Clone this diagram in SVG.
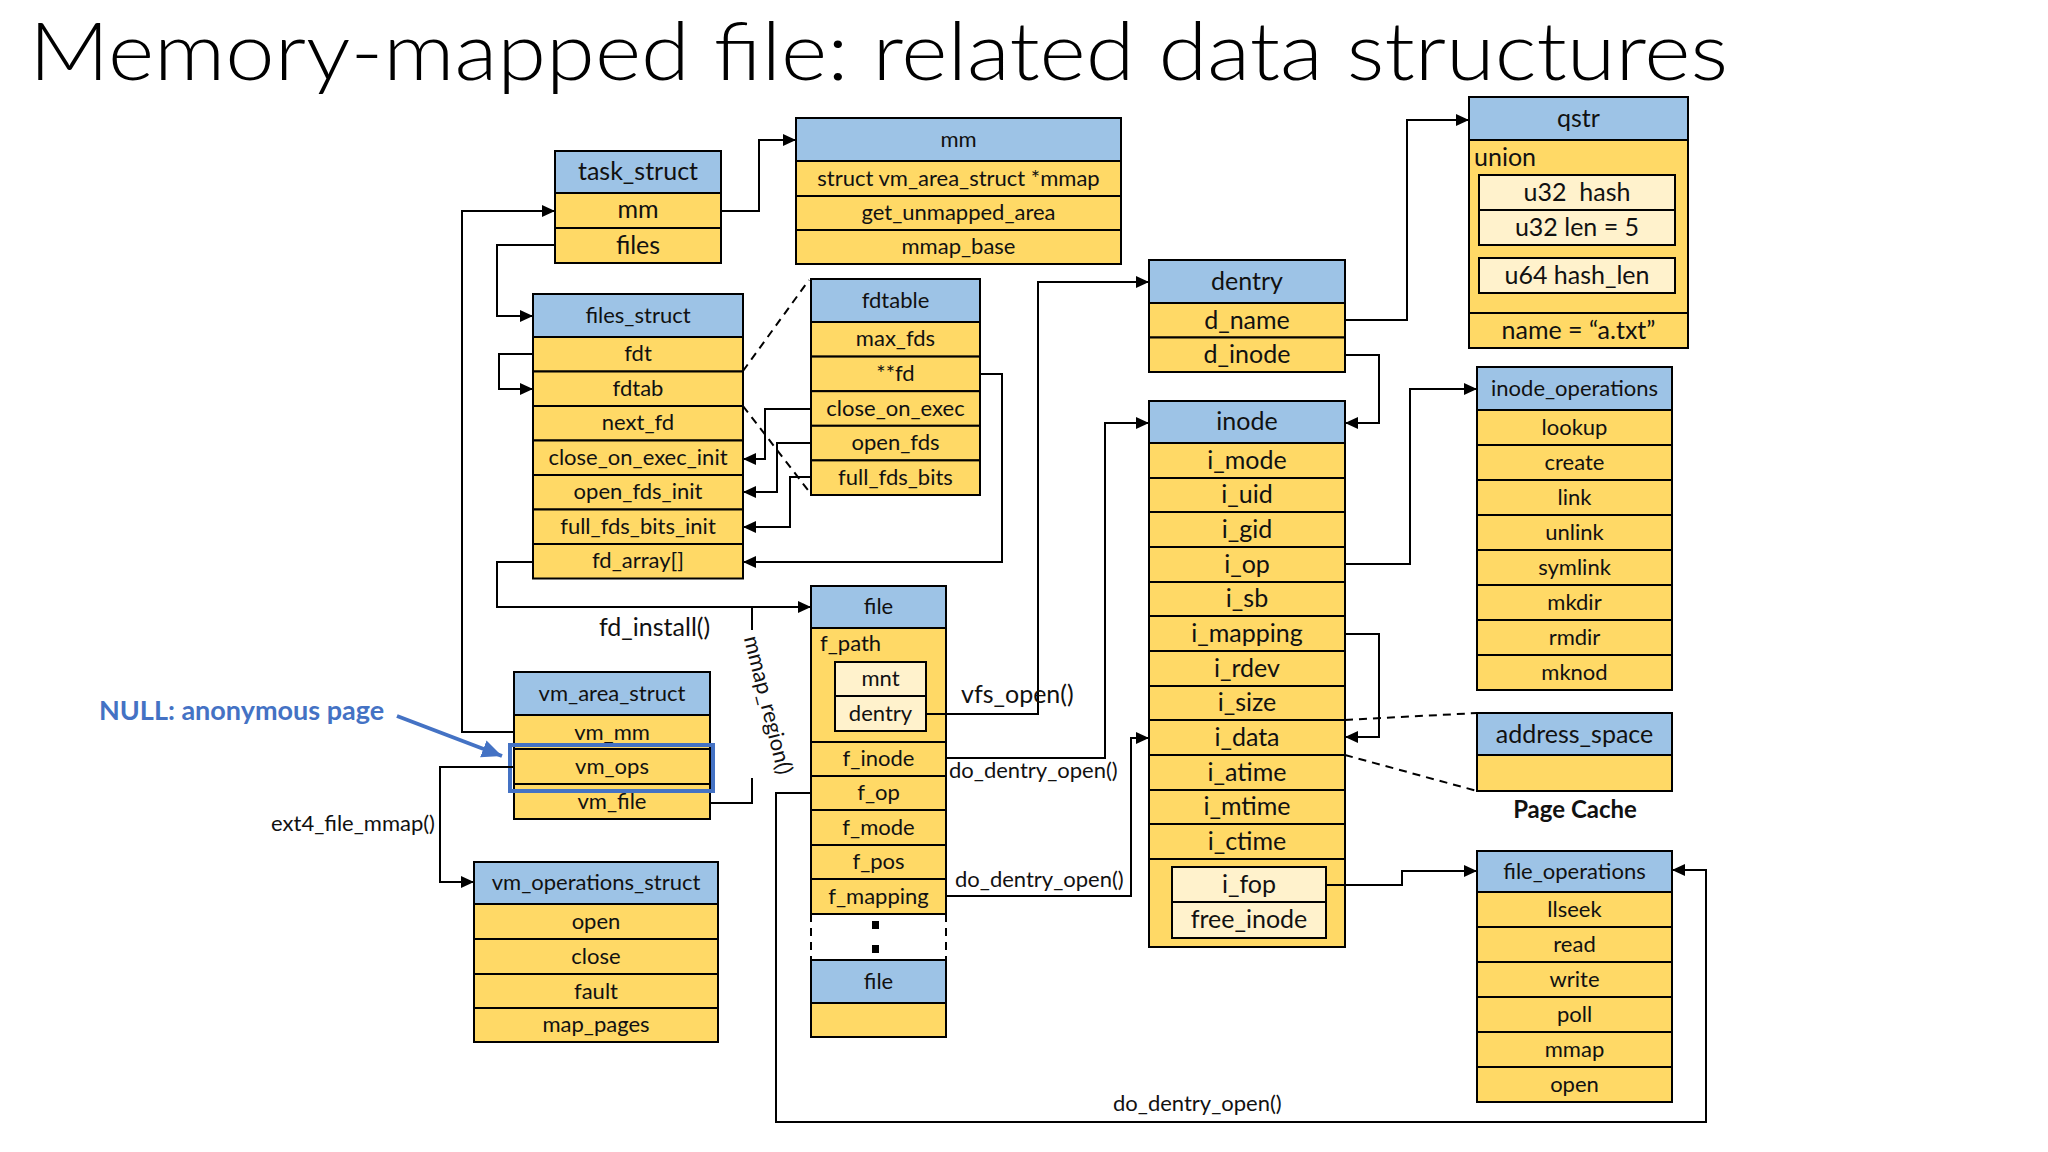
<svg xmlns="http://www.w3.org/2000/svg" width="2048" height="1152" viewBox="0 0 2048 1152">
<defs>
<style>
.hd{fill:#9DC3E6;stroke:#000;stroke-width:2}
.fd{fill:#FFD966;stroke:#000;stroke-width:2}
.lt{fill:#FFF2CC;stroke:#000;stroke-width:2}
text{font-family:Lato,"Liberation Sans",sans-serif;fill:#111}
.s{font-size:22px;text-anchor:middle}
.b{font-size:25px;text-anchor:middle}
.lbl{font-size:22px}
.ln{fill:none;stroke:#000;stroke-width:2}
.ar{marker-end:url(#ah)}
.ds{fill:none;stroke:#000;stroke-width:2;stroke-dasharray:8 6}
</style>
<marker id="ah" markerUnits="userSpaceOnUse" markerWidth="14" markerHeight="14" refX="13" refY="7" orient="auto">
<path d="M0,1 L13,7 L0,13 z" fill="#000"/>
</marker>
<marker id="bah" markerUnits="userSpaceOnUse" markerWidth="22" markerHeight="22" refX="20" refY="11" orient="auto">
<path d="M0,2 L20,11 L0,20 z" fill="#4472C4"/>
</marker>
</defs>
<rect x="0" y="0" width="2048" height="1152" fill="#fff"/>
<text x="29" y="80" font-size="81" font-weight="300" textLength="1699" lengthAdjust="spacingAndGlyphs" style="fill:#000">Memory-mapped file: related data structures</text>

<g id="task_struct">
<rect class="hd" x="555" y="151" width="166" height="42"/>
<rect class="fd" x="555" y="193" width="166" height="35"/>
<rect class="fd" x="555" y="228" width="166" height="35"/>
<text class="b" x="638" y="180">task_struct</text>
<text class="b" x="638" y="218">mm</text>
<text class="b" x="638" y="254">files</text>
</g>

<g id="mm">
<rect class="hd" x="796" y="118" width="325" height="43"/>
<rect class="fd" x="796" y="161" width="325" height="35"/>
<rect class="fd" x="796" y="196" width="325" height="34"/>
<rect class="fd" x="796" y="230" width="325" height="34"/>
<text class="s" x="958.5" y="147">mm</text>
<text class="s" x="958.5" y="186">struct vm_area_struct *mmap</text>
<text class="s" x="958.5" y="220">get_unmapped_area</text>
<text class="s" x="958.5" y="254">mmap_base</text>
</g>

<g id="files_struct">
<rect class="hd" x="533" y="294" width="210" height="43"/>
<rect class="fd" x="533" y="337" width="210" height="34.5"/>
<rect class="fd" x="533" y="371.5" width="210" height="34.5"/>
<rect class="fd" x="533" y="406" width="210" height="34.5"/>
<rect class="fd" x="533" y="440.5" width="210" height="34.5"/>
<rect class="fd" x="533" y="475" width="210" height="34.5"/>
<rect class="fd" x="533" y="509.5" width="210" height="34.5"/>
<rect class="fd" x="533" y="544" width="210" height="34.5"/>
<text class="s" x="638" y="323">files_struct</text>
<text class="s" x="638" y="361">fdt</text>
<text class="s" x="638" y="396">fdtab</text>
<text class="s" x="638" y="430">next_fd</text>
<text class="s" x="638" y="465">close_on_exec_init</text>
<text class="s" x="638" y="499">open_fds_init</text>
<text class="s" x="638" y="534">full_fds_bits_init</text>
<text class="s" x="638" y="568">fd_array[]</text>
</g>

<g id="fdtable">
<rect class="hd" x="811" y="279" width="169" height="43"/>
<rect class="fd" x="811" y="322" width="169" height="34.6"/>
<rect class="fd" x="811" y="356.6" width="169" height="34.6"/>
<rect class="fd" x="811" y="391.2" width="169" height="34.6"/>
<rect class="fd" x="811" y="425.8" width="169" height="34.6"/>
<rect class="fd" x="811" y="460.4" width="169" height="34.6"/>
<text class="s" x="895.5" y="308">fdtable</text>
<text class="s" x="895.5" y="346">max_fds</text>
<text class="s" x="895.5" y="381">**fd</text>
<text class="s" x="895.5" y="416">close_on_exec</text>
<text class="s" x="895.5" y="450">open_fds</text>
<text class="s" x="895.5" y="485">full_fds_bits</text>
</g>

<g id="dentry">
<rect class="hd" x="1149" y="260" width="196" height="43"/>
<rect class="fd" x="1149" y="303" width="196" height="34.5"/>
<rect class="fd" x="1149" y="337.5" width="196" height="34.5"/>
<text class="b" x="1247" y="290">dentry</text>
<text class="b" x="1247" y="329">d_name</text>
<text class="b" x="1247" y="363">d_inode</text>
</g>

<g id="qstr">
<rect class="hd" x="1469" y="97" width="219" height="43"/>
<rect class="fd" x="1469" y="140" width="219" height="173"/>
<rect class="fd" x="1469" y="313" width="219" height="35"/>
<text class="b" x="1578.5" y="127">qstr</text>
<text x="1474" y="166" font-size="25">union</text>
<rect class="lt" x="1479" y="175" width="196" height="35"/>
<rect class="lt" x="1479" y="210" width="196" height="35"/>
<rect class="lt" x="1479" y="258" width="196" height="35"/>
<text class="b" x="1577" y="201" style="white-space:pre">u32  hash</text>
<text class="b" x="1577" y="236">u32 len = 5</text>
<text class="b" x="1577" y="284">u64 hash_len</text>
<text class="b" x="1578.5" y="339">name = “a.txt”</text>
</g>

<g id="inode">
<rect class="hd" x="1149" y="401" width="196" height="42"/>
<rect class="fd" x="1149" y="443" width="196" height="35"/>
<rect class="fd" x="1149" y="478" width="196" height="34"/>
<rect class="fd" x="1149" y="512" width="196" height="35"/>
<rect class="fd" x="1149" y="547" width="196" height="35"/>
<rect class="fd" x="1149" y="582" width="196" height="34"/>
<rect class="fd" x="1149" y="616" width="196" height="35"/>
<rect class="fd" x="1149" y="651" width="196" height="35"/>
<rect class="fd" x="1149" y="686" width="196" height="34"/>
<rect class="fd" x="1149" y="720" width="196" height="35"/>
<rect class="fd" x="1149" y="755" width="196" height="35"/>
<rect class="fd" x="1149" y="790" width="196" height="34"/>
<rect class="fd" x="1149" y="824" width="196" height="35"/>
<rect class="fd" x="1149" y="859" width="196" height="88"/>
<text class="b" x="1247" y="430">inode</text>
<text class="b" x="1247" y="468.5">i_mode</text>
<text class="b" x="1247" y="503">i_uid</text>
<text class="b" x="1247" y="538">i_gid</text>
<text class="b" x="1247" y="572.5">i_op</text>
<text class="b" x="1247" y="607">i_sb</text>
<text class="b" x="1247" y="642">i_mapping</text>
<text class="b" x="1247" y="676.5">i_rdev</text>
<text class="b" x="1247" y="711">i_size</text>
<text class="b" x="1247" y="746">i_data</text>
<text class="b" x="1247" y="780.5">i_atime</text>
<text class="b" x="1247" y="815">i_mtime</text>
<text class="b" x="1247" y="850">i_ctime</text>
<rect class="lt" x="1172" y="867" width="154" height="35"/>
<rect class="lt" x="1172" y="902" width="154" height="36"/>
<text class="b" x="1249" y="893">i_fop</text>
<text class="b" x="1249" y="928">free_inode</text>
</g>

<g id="inode_operations">
<rect class="hd" x="1477" y="367" width="195" height="43"/>
<rect class="fd" x="1477" y="410" width="195" height="35"/>
<rect class="fd" x="1477" y="445" width="195" height="35"/>
<rect class="fd" x="1477" y="480" width="195" height="35"/>
<rect class="fd" x="1477" y="515" width="195" height="35"/>
<rect class="fd" x="1477" y="550" width="195" height="35"/>
<rect class="fd" x="1477" y="585" width="195" height="35"/>
<rect class="fd" x="1477" y="620" width="195" height="35"/>
<rect class="fd" x="1477" y="655" width="195" height="35"/>
<text class="s" x="1574.5" y="396">inode_operations</text>
<text class="s" x="1574.5" y="435">lookup</text>
<text class="s" x="1574.5" y="470">create</text>
<text class="s" x="1574.5" y="505">link</text>
<text class="s" x="1574.5" y="540">unlink</text>
<text class="s" x="1574.5" y="575">symlink</text>
<text class="s" x="1574.5" y="610">mkdir</text>
<text class="s" x="1574.5" y="645">rmdir</text>
<text class="s" x="1574.5" y="680">mknod</text>
</g>

<g id="address_space">
<rect class="hd" x="1477" y="713" width="195" height="42"/>
<rect class="fd" x="1477" y="755" width="195" height="36"/>
<text class="b" x="1574.5" y="742.5">address_space</text>
<text x="1575" y="818" font-size="24" font-weight="bold" text-anchor="middle">Page Cache</text>
</g>

<g id="file_operations">
<rect class="hd" x="1477" y="851" width="195" height="41"/>
<rect class="fd" x="1477" y="892" width="195" height="35"/>
<rect class="fd" x="1477" y="927" width="195" height="35"/>
<rect class="fd" x="1477" y="962" width="195" height="35"/>
<rect class="fd" x="1477" y="997" width="195" height="35"/>
<rect class="fd" x="1477" y="1032" width="195" height="35"/>
<rect class="fd" x="1477" y="1067" width="195" height="35"/>
<text class="s" x="1574.5" y="879">file_operations</text>
<text class="s" x="1574.5" y="916.5">llseek</text>
<text class="s" x="1574.5" y="951.5">read</text>
<text class="s" x="1574.5" y="986.5">write</text>
<text class="s" x="1574.5" y="1021.5">poll</text>
<text class="s" x="1574.5" y="1056.5">mmap</text>
<text class="s" x="1574.5" y="1091.5">open</text>
</g>

<g id="file">
<rect class="hd" x="811" y="586" width="135" height="42"/>
<text class="s" x="878.5" y="614">file</text>
<rect class="fd" x="811" y="628" width="135" height="114"/>
<text x="820" y="651" font-size="22">f_path</text>
<rect class="lt" x="835" y="662" width="91" height="34"/>
<rect class="lt" x="835" y="696" width="91" height="35"/>
<text class="s" x="880.5" y="686">mnt</text>
<text class="s" x="880.5" y="721">dentry</text>
<rect class="fd" x="811" y="742" width="135" height="34"/>
<rect class="fd" x="811" y="776" width="135" height="34"/>
<rect class="fd" x="811" y="810" width="135" height="35"/>
<rect class="fd" x="811" y="845" width="135" height="34"/>
<rect class="fd" x="811" y="879" width="135" height="35"/>
<text class="s" x="878.5" y="766">f_inode</text>
<text class="s" x="878.5" y="800">f_op</text>
<text class="s" x="878.5" y="835">f_mode</text>
<text class="s" x="878.5" y="869">f_pos</text>
<text class="s" x="878.5" y="904">f_mapping</text>
<line class="ds" x1="811" y1="914" x2="811" y2="960"/>
<line class="ds" x1="946" y1="914" x2="946" y2="960"/>
<rect x="872" y="921" width="7" height="8" fill="#000"/>
<rect x="872" y="945" width="7" height="8" fill="#000"/>
</g>

<g id="file2">
<rect class="hd" x="811" y="960" width="135" height="43"/>
<rect class="fd" x="811" y="1003" width="135" height="34"/>
<text class="s" x="878.5" y="989">file</text>
</g>

<g id="vm_area_struct">
<rect class="hd" x="514" y="672" width="196" height="43"/>
<rect class="fd" x="514" y="715" width="196" height="34"/>
<rect class="fd" x="514" y="749" width="196" height="35"/>
<rect class="fd" x="514" y="784" width="196" height="35"/>
<text class="s" x="612" y="701">vm_area_struct</text>
<text class="s" x="612" y="740">vm_mm</text>
<text class="s" x="612" y="774">vm_ops</text>
<text class="s" x="612" y="809">vm_file</text>
</g>

<g id="vm_operations_struct">
<rect class="hd" x="474" y="862" width="244" height="42"/>
<rect class="fd" x="474" y="904" width="244" height="35"/>
<rect class="fd" x="474" y="939" width="244" height="35"/>
<rect class="fd" x="474" y="974" width="244" height="34"/>
<rect class="fd" x="474" y="1008" width="244" height="34"/>
<text class="s" x="596" y="890">vm_operations_struct</text>
<text class="s" x="596" y="929">open</text>
<text class="s" x="596" y="964">close</text>
<text class="s" x="596" y="998.5">fault</text>
<text class="s" x="596" y="1032">map_pages</text>
</g>

<g id="anon_note">
<rect x="510" y="745" width="203" height="46" fill="none" stroke="#4472C4" stroke-width="4"/>
<text x="99" y="720" font-size="27" font-weight="bold" style="fill:#4472C4">NULL: anonymous page</text>
<line x1="397" y1="716" x2="502" y2="756" stroke="#4472C4" stroke-width="4" marker-end="url(#bah)"/>
</g>

<g id="connectors">
<path class="ln ar" d="M721,211 H759 V140 H796"/>
<path class="ln ar" d="M555,245 H497 V316 H533"/>
<path class="ln ar" d="M533,354 H499 V389 H533"/>
<path class="ln ar" d="M811,409 H765 V459 H743"/>
<path class="ln ar" d="M811,443 H777 V492 H743"/>
<path class="ln ar" d="M811,477 H790 V527 H743"/>
<path class="ln ar" d="M980,374 H1002 V562 H743"/>
<path class="ln ar" d="M533,562 H497 V607 H811"/>
<path class="ln ar" d="M514,732 H462 V211 H555"/>
<path class="ln ar" d="M514,767 H440 V882 H474"/>
<path class="ln" d="M710,803 H752 V778"/>
<path class="ln" d="M752,630 V607"/>
<path class="ln ar" d="M926,714 H1038 V282 H1149"/>
<path class="ln ar" d="M946,758 H1105 V423 H1149"/>
<path class="ln ar" d="M946,896 H1131 V738 H1149"/>
<path class="ln ar" d="M811,793 H776 V1122 H1706 V870 H1672"/>
<path class="ln ar" d="M1345,320 H1407 V120 H1469"/>
<path class="ln ar" d="M1345,355 H1379 V423 H1345"/>
<path class="ln ar" d="M1345,564 H1410 V389 H1477"/>
<path class="ln ar" d="M1345,634 H1379 V737 H1345"/>
<path class="ln ar" d="M1326,885 H1402 V871 H1477"/>
<path class="ds" d="M743,371 L809,280"/>
<path class="ds" d="M743,406 L811,494"/>
<path class="ds" d="M1345,720 L1477,713"/>
<path class="ds" d="M1345,755 L1477,791"/>
<text class="lbl" x="599" y="636" style="font-size:25px">fd_install()</text>
<text class="lbl" x="0" y="0" transform="translate(760,707) rotate(76)" text-anchor="middle" dy="-1">mmap_region()</text>
<text class="lbl" x="435" y="831" text-anchor="end">ext4_file_mmap()</text>
<text class="lbl" x="961" y="703" style="font-size:25px">vfs_open()</text>
<text class="lbl" x="949" y="778">do_dentry_open()</text>
<text class="lbl" x="955" y="887">do_dentry_open()</text>
<text class="lbl" x="1113" y="1111">do_dentry_open()</text>
</g>
</svg>
